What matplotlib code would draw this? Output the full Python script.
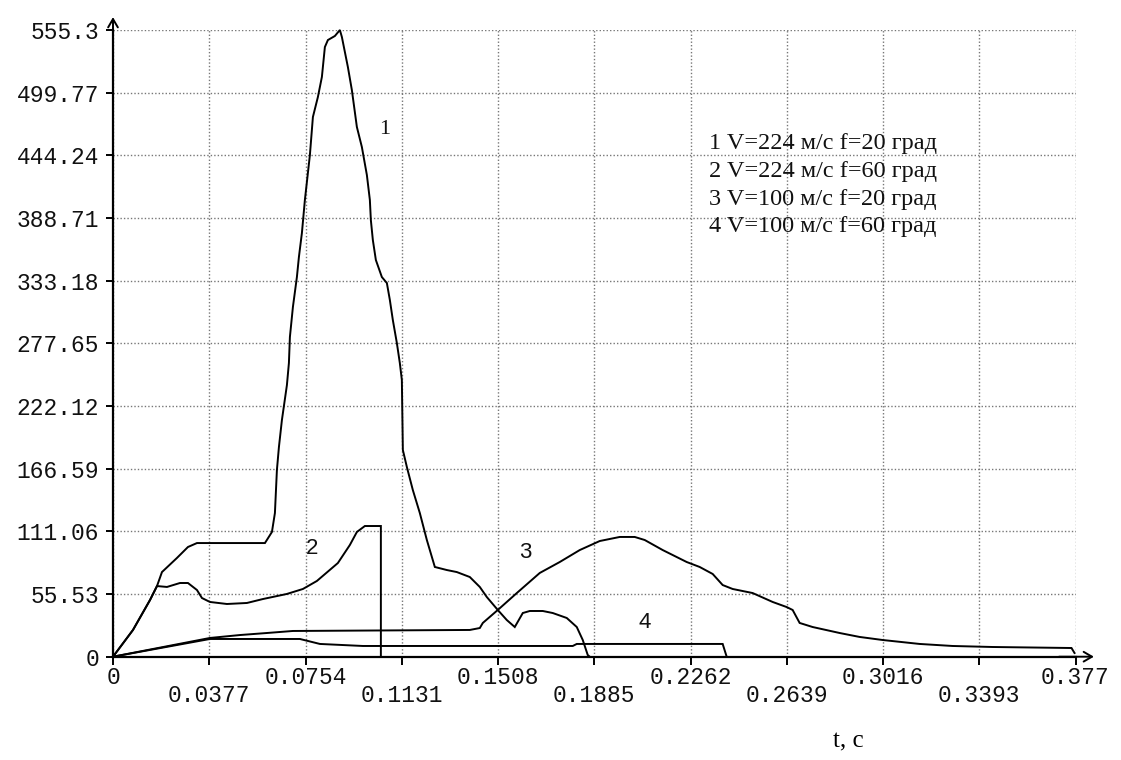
import matplotlib
matplotlib.use("Agg")
import matplotlib.pyplot as plt
from matplotlib.ticker import FixedLocator, FixedFormatter

# ---- data ----
t1 = [0, 0.00783, 0.01449, 0.01723, 0.01918, 0.02505, 0.02936, 0.03288, 0.05951, 0.06225,
      0.06342, 0.06420, 0.06499, 0.06616, 0.06812, 0.06890, 0.06929, 0.07047, 0.07203, 0.07282,
      0.07399, 0.07516, 0.07712, 0.07830, 0.08025, 0.08182, 0.08299, 0.08417, 0.08691, 0.08887,
      0.08965, 0.09200, 0.09356, 0.09552, 0.09748, 0.09944, 0.10061, 0.10100, 0.10178, 0.10296,
      0.10531, 0.10727, 0.10844, 0.10961, 0.11118, 0.11235, 0.11314, 0.11353, 0.11510, 0.11744,
      0.12018, 0.12293, 0.12606, 0.13075, 0.13467, 0.13976, 0.14367, 0.14641, 0.15072, 0.15424,
      0.15737, 0.16051, 0.16325, 0.16834, 0.17225, 0.17773, 0.18165, 0.18400, 0.18595, 0.18674]
v1 = [0, 23.7, 50.2, 62.6, 75.0, 87.5, 97.2, 100.7, 100.7, 110.5,
      127.3, 165.4, 185.8, 209.7, 240.7, 260.2, 283.3, 309.9, 336.4, 354.2,
      375.4, 404.7, 444.5, 478.2, 495.9, 513.7, 540.2, 546.4, 550.0, 555.3,
      549.1, 522.5, 502.1, 469.4, 451.6, 426.8, 404.7, 386.9, 369.2, 351.5,
      336.4, 331.1, 316.1, 298.3, 278.0, 260.2, 245.2, 183.2, 168.1, 147.7,
      127.3, 103.4, 79.5, 76.8, 75.0, 70.6, 61.8, 52.9, 41.4, 32.5,
      26.3, 38.7, 40.5, 40.5, 38.7, 34.3, 26.3, 14.8, 1.5, 0]

t2 = [0, 0.00783, 0.01449, 0.01723, 0.02114, 0.02623, 0.02936, 0.03288, 0.03484, 0.03797,
      0.04463, 0.05246, 0.05872, 0.06812, 0.07438, 0.07986, 0.08808, 0.09278, 0.09552, 0.09865,
      0.10492, 0.10492]
v2 = [0, 23.7, 50.2, 62.6, 61.8, 65.3, 65.3, 59.1, 52.0, 48.5,
      46.7, 47.6, 51.1, 55.6, 60.0, 67.1, 83.0, 99.0, 110.5, 115.8,
      115.8, 0]

t3 = [0, 0.03797, 0.04972, 0.06029, 0.07047, 0.13976, 0.14367, 0.14485, 0.15072, 0.15816,
      0.16716, 0.17499, 0.18282, 0.19065, 0.19848, 0.20435, 0.20827, 0.21531, 0.22471, 0.22980,
      0.23489, 0.23880, 0.24272, 0.25055, 0.25838, 0.26386, 0.26621, 0.26895, 0.27404, 0.28461,
      0.29244, 0.30144, 0.31593, 0.32884, 0.34450, 0.37543, 0.37661]
v3 = [0, 16.6, 19.2, 21.0, 22.8, 23.7, 25.4, 29.9, 41.4, 56.4,
      74.2, 83.9, 94.5, 102.5, 106.1, 106.1, 103.4, 94.5, 83.9, 79.5,
      73.3, 63.5, 60.0, 56.4, 48.5, 44.0, 41.4, 29.9, 26.3, 21.0,
      17.5, 14.8, 11.3, 9.5, 8.6, 7.7, 3.3]

t4 = [0, 0.03797, 0.07321, 0.08104, 0.09787, 0.18008, 0.18165, 0.23880, 0.24037]
v4 = [0, 15.7, 15.7, 11.3, 9.5, 9.5, 11.3, 11.3, 0]

x_ticks = [0, 0.0377, 0.0754, 0.1131, 0.1508, 0.1885, 0.2262, 0.2639, 0.3016, 0.3393, 0.377]
x_labels = ['0', '0.0377', '0.0754', '0.1131', '0.1508', '0.1885', '0.2262', '0.2639', '0.3016', '0.3393', '0.377']
y_ticks = [0, 55.53, 111.06, 166.59, 222.12, 277.65, 333.18, 388.71, 444.24, 499.77, 555.3]
y_labels = ['0', '55.53', '111.06', '166.59', '222.12', '277.65', '333.18', '388.71', '444.24', '499.77', '555.3']

legend_lines = ['1 V=224 м/с f=20 град', '2 V=224 м/с f=60 град',
                '3 V=100 м/с f=20 град', '4 V=100 м/с f=60 град']
curve_labels = ['1', '2', '3', '4']
curve_label_pos = [(0.1065, 466.7), (0.0779, 96.3), (0.1613, 91.9), (0.2083, 30.7)]

# ---- figure ----
fig = plt.figure(figsize=(11.21, 7.6), dpi=100)
ax = fig.add_axes([113/1121, (760-656.7)/760, 962.5/1121, 626.7/760])
ax.set_xlim(0, 0.377)
ax.set_ylim(0, 555.3)

for t, v in [(t1, v1), (t2, v2), (t3, v3), (t4, v4)]:
    ax.plot(t, v, color='black', lw=1.4, clip_on=False, solid_joinstyle='miter')

# ticks: even labels on first row (major), odd labels on second row (minor)
ax.xaxis.set_major_locator(FixedLocator(x_ticks[0::2]))
ax.xaxis.set_major_formatter(FixedFormatter(x_labels[0::2]))
ax.xaxis.set_minor_locator(FixedLocator(x_ticks[1::2]))
ax.xaxis.set_minor_formatter(FixedFormatter(x_labels[1::2]))
ax.yaxis.set_major_locator(FixedLocator(y_ticks))
ax.yaxis.set_major_formatter(FixedFormatter(y_labels))

ax.tick_params(axis='x', which='major', direction='out', length=6, width=1.4, pad=0.5)
ax.tick_params(axis='x', which='minor', direction='out', length=6, width=1.4, pad=13.5)
ax.tick_params(axis='y', which='major', direction='out', length=5, width=1.4, pad=5)
for lab in ax.get_xticklabels(which='both') + ax.get_yticklabels():
    lab.set_fontfamily('Liberation Mono')
    lab.set_fontsize(16.5)
    lab.set_color('#111111')

ax.grid(True, which='both', color='#777777', linestyle=(0, (1, 1.5)), lw=1.0)
ax.set_axisbelow(True)

for s in ['top', 'right']:
    ax.spines[s].set_visible(False)
for s in ['left', 'bottom']:
    ax.spines[s].set_linewidth(1.6)
    ax.spines[s].set_color('black')

# axis arrows
ax.annotate('', xy=(0, 1.025), xytext=(0, 0.98), xycoords='axes fraction',
            arrowprops=dict(arrowstyle='->,head_length=0.6,head_width=0.35', lw=1.4, color='black'),
            annotation_clip=False)
ax.annotate('', xy=(1.022, 0), xytext=(0.98, 0), xycoords='axes fraction',
            arrowprops=dict(arrowstyle='->,head_length=0.6,head_width=0.35', lw=1.4, color='black'),
            annotation_clip=False)

# legend text
leg_t = 0.2335
leg_v = [455.0, 430.2, 405.4, 381.5]
for txt, vv in zip(legend_lines, leg_v):
    ax.text(leg_t, vv, txt, family='Liberation Serif', size=17.5, va='center', ha='left', color='#111111')

# curve labels
for lab, (tt, vv), fam in zip(curve_labels, curve_label_pos,
                               ['Liberation Serif', 'Liberation Sans', 'Liberation Sans', 'Liberation Sans']):
    ax.text(tt, vv, lab, family=fam, size=16, ha='center', va='center', color='#111111')

fig.text(848/1121, 1 - 741/760, 't, c', family='Liberation Serif', size=18, ha='center', va='center')

fig.savefig('out.png', dpi=100)
